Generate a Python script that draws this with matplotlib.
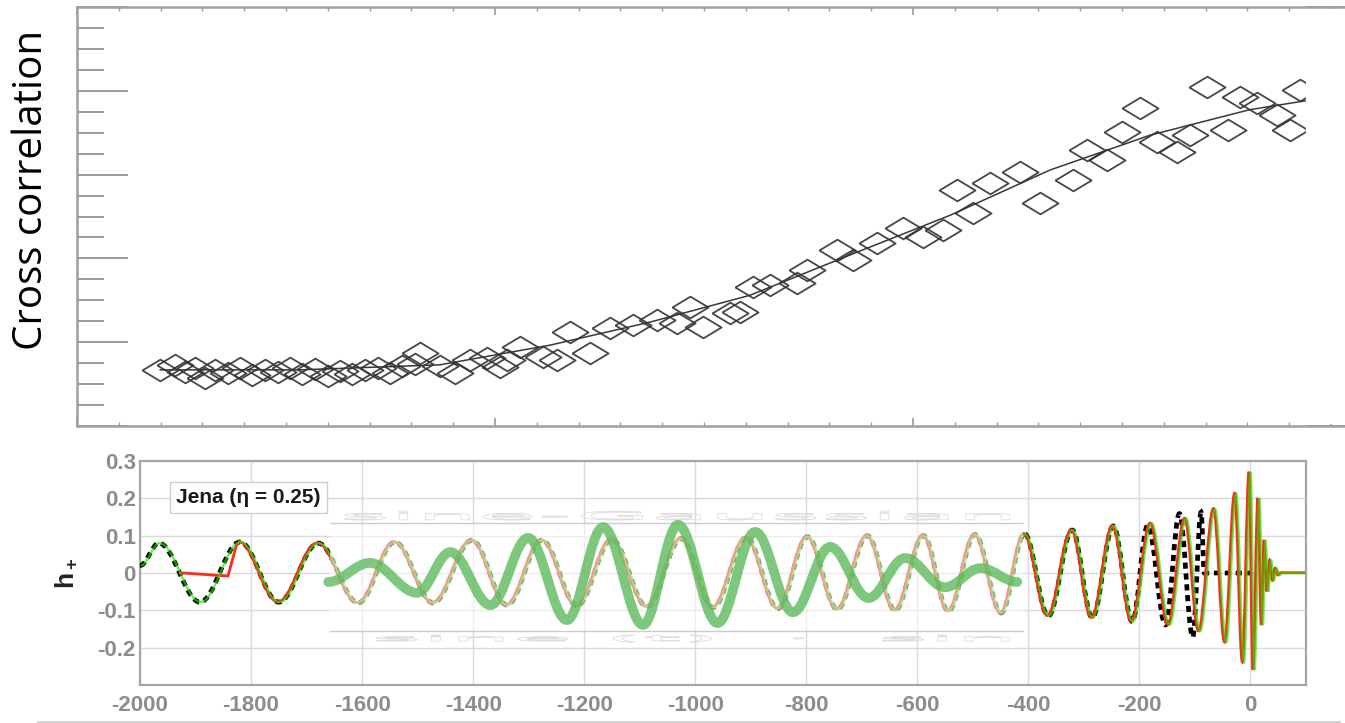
import matplotlib
matplotlib.use("Agg")
import matplotlib.pyplot as plt
from matplotlib.path import Path
from matplotlib.patches import PathPatch, Rectangle
from matplotlib.textpath import TextPath
from matplotlib.font_manager import FontProperties
from matplotlib.transforms import Affine2D, ScaledTranslation
from matplotlib.lines import Line2D
from matplotlib.ticker import MultipleLocator

plt.rcParams["font.family"] = ["Liberation Sans", "DejaVu Sans"]
plt.rcParams["mathtext.fontset"] = "custom"
plt.rcParams["mathtext.bf"] = "Liberation Sans:bold"

# ---- top panel: cross correlation samples (minor x tick = 1 unit) ----
cc_x = [1.99, 2.34, 2.58, 2.82, 3.06, 3.30, 3.61, 3.90, 4.19, 4.50, 4.81, 5.10,
        5.38, 5.69, 6.00, 6.29, 6.58, 6.89, 7.20, 7.49, 7.78, 8.09, 8.21, 8.68,
        9.05, 9.40, 9.81, 10.12, 10.29, 10.60, 11.15, 11.48, 11.79, 12.27, 12.75,
        13.30, 13.88, 14.35, 14.67, 14.98, 15.62, 15.86, 16.17, 16.58, 17.22,
        17.46, 18.18, 18.56, 19.14, 19.76, 20.24, 20.72, 21.05, 21.44, 21.84,
        22.56, 23.04, 23.83, 24.16, 24.64, 25.00, 25.43, 25.84, 26.32, 26.63,
        27.03, 27.54, 27.82, 28.23, 28.71, 29.02, 29.26]
cc_y = [0.134, 0.146, 0.129, 0.138, 0.115, 0.134, 0.126, 0.138, 0.122, 0.134,
        0.129, 0.138, 0.124, 0.136, 0.119, 0.131, 0.124, 0.134, 0.138, 0.126,
        0.143, 0.148, 0.175, 0.143, 0.126, 0.158, 0.162, 0.141, 0.158, 0.189,
        0.165, 0.158, 0.224, 0.174, 0.234, 0.241, 0.253, 0.246, 0.284, 0.236,
        0.270, 0.272, 0.332, 0.337, 0.341, 0.372, 0.420, 0.396, 0.437, 0.473,
        0.451, 0.468, 0.563, 0.508, 0.580, 0.606, 0.532, 0.587, 0.659, 0.635,
        0.702, 0.759, 0.678, 0.654, 0.695, 0.809, 0.706, 0.785, 0.771, 0.742,
        0.706, 0.802]
fit_x = [1.99, 5.33, 8.68, 11.32, 13.71, 16.10, 18.49, 20.89, 23.28, 25.67, 28.06, 29.38]
fit_y = [0.134, 0.134, 0.146, 0.193, 0.248, 0.312, 0.408, 0.503, 0.611, 0.694, 0.755, 0.776]

# ---- bottom panel: waveform extrema (time, h+) ----
wave_t = [-2000, -1966, -1892, -1820, -1750, -1679, -1607, -1541, -1472, -1402,
          -1339, -1276, -1213, -1150, -1087, -1025, -968, -908, -851, -798, -744,
          -690, -640, -589, -544, -496, -449, -407, -364, -321, -285, -247, -213,
          -179, -147, -117, -92, -65, -45, -27, -13, -1, 6, 15, 21, 26, 31, 36,
          41, 46, 51, 56, 100]
wave_h = [0.020, 0.080, -0.078, 0.083, -0.078, 0.080, -0.080, 0.083, -0.080, 0.088,
          -0.086, 0.088, -0.088, 0.090, -0.090, 0.092, -0.092, 0.095, -0.095, 0.097,
          -0.097, 0.100, -0.100, 0.100, -0.102, 0.103, -0.107, 0.105, -0.115, 0.115,
          -0.120, 0.126, -0.130, 0.133, -0.139, 0.146, -0.156, 0.172, -0.186, 0.213,
          -0.239, 0.270, -0.260, 0.200, -0.140, 0.088, -0.050, 0.033, -0.020, 0.012,
          -0.006, 0.0, 0.0]
# red model: glitch at the start
red_lead_t = [-1928, -1840, -1825]
red_lead_h = [0.0, -0.009, 0.072]
# black dashed: departs from the shared curve after t = -213
nr_tail_t = [-185, -153, -128, -104, -89, -83, 0]
nr_tail_h = [0.128, -0.139, 0.159, -0.172, 0.163, 0.0, 0.0]
# thick green sine-Gaussian
sg_t = [-1661, -1586, -1501, -1441, -1369, -1301, -1231, -1166, -1094, -1031,
        -960, -892, -824, -757, -688, -622, -550, -486, -420]
sg_h = [-0.024, 0.027, -0.053, 0.056, -0.086, 0.094, -0.126, 0.123, -0.139, 0.129,
        -0.134, 0.110, -0.105, 0.070, -0.067, 0.040, -0.038, 0.013, -0.024]

xticks_bot = [-2000, -1800, -1600, -1400, -1200, -1000, -800, -600, -400, -200, 0]
xlabels_bot = ["-2000", "-1800", "-1600", "-1400", "-1200", "-1000", "-800",
               "-600", "-400", "-200", "0"]
yticks_bot = [-0.2, -0.1, 0.0, 0.1, 0.2, 0.3]
ylabels_bot = ["-0.2", "-0.1", "0", "0.1", "0.2", "0.3"]


def wave_path(t, h, lead_t=(), lead_h=(), k=0.36):
    # smooth half-waves between consecutive extrema (cubic Bezier)
    verts, codes = [], []
    for i, (a, b) in enumerate(zip(lead_t, lead_h)):
        verts.append((a, b))
        codes.append(Path.MOVETO if i == 0 else Path.LINETO)
    verts.append((t[0], h[0]))
    codes.append(Path.LINETO if codes else Path.MOVETO)
    for i in range(1, len(t)):
        dt = t[i] - t[i - 1]
        verts += [(t[i - 1] + k * dt, h[i - 1]), (t[i] - k * dt, h[i]), (t[i], h[i])]
        codes += [Path.CURVE4] * 3
    return Path(verts, codes)


fig = plt.figure(figsize=(13.45, 7.23), dpi=100)

# ================= top panel =================
ax1 = fig.add_axes([77 / 1345, 297 / 723, 1280 / 1345, 419 / 723])
diamond = [(-1, 0), (0, 0.6), (1, 0), (0, -0.6), (-1, 0)]
ax1.plot(fit_x, fit_y, color="#383838", lw=1.1, zorder=2)
ax1.plot(cc_x, cc_y, ls="none", marker=diamond, markersize=26, mfc="none",
         mec="#333333", mew=1.3, alpha=0.9, zorder=2)
ax1.add_patch(Rectangle((29.4, 0.005), 2.0, 0.99, fc="white", ec="none", zorder=2.2))
ax1.set_xlim(0, 1280 / 41.8)
ax1.set_ylim(0, 1)
ax1.xaxis.set_major_locator(MultipleLocator(10))
ax1.xaxis.set_minor_locator(MultipleLocator(1))
ax1.yaxis.set_major_locator(MultipleLocator(0.2))
ax1.yaxis.set_minor_locator(MultipleLocator(0.05))
ax1.tick_params(axis="y", which="major", direction="in", length=37, width=1.4,
                color="#9a9a9a", left=True, right=True, labelleft=False)
ax1.tick_params(axis="y", which="minor", direction="in", length=19.5, width=1.4,
                color="#9a9a9a", left=True, right=True)
ax1.tick_params(axis="x", which="major", direction="in", length=6, width=1.2,
                color="#9a9a9a", top=True, bottom=True, labelbottom=False)
ax1.tick_params(axis="x", which="minor", direction="in", length=3, width=1.0,
                color="#9a9a9a", top=True, bottom=True)
for s in ax1.spines.values():
    s.set_color("#a0a0a0")
    s.set_linewidth(1.8)

fig.text(32 / 1345, (723 - 190) / 723, "Cross correlation", rotation=90,
         ha="center", va="center", fontsize=29, family="Open Sans", color="black")

# ================= bottom panel =================
ax2 = fig.add_axes([140 / 1345, 38 / 723, 1166 / 1345, 224 / 723])
ax2.set_xlim(-2000, 100)
ax2.set_ylim(-0.3, 0.3)
ax2.set_xticks(xticks_bot, xlabels_bot, fontweight="bold")
ax2.set_yticks(yticks_bot, ylabels_bot, fontweight="bold")
ax2.grid(True, color="#dadada", lw=1.0)
ax2.set_axisbelow(True)
ax2.tick_params(length=0, labelsize=16, labelcolor="#8c8c8c")
ax2.tick_params(axis="x", pad=7)
ax2.tick_params(axis="y", pad=3)
for s in ax2.spines.values():
    s.set_color("#a6a6a6")
    s.set_linewidth(1.6)

i_split = wave_t.index(-213)
i_red = wave_t.index(-1820)

nr = wave_path(wave_t[:i_split + 1] + nr_tail_t, wave_h[:i_split + 1] + nr_tail_h)
ax2.add_patch(PathPatch(nr, fill=False, ec="black", lw=3.4, ls=(0, (1.3, 1.0)),
                        capstyle="butt", zorder=3))

red_shift = ax2.transData + ScaledTranslation(-0.9 / 100, 0.3 / 100, fig.dpi_scale_trans)
red = wave_path(wave_t[i_red:], wave_h[i_red:], red_lead_t, red_lead_h)
ax2.add_patch(PathPatch(red, fill=False, ec="#ff2a1a", lw=2.0, zorder=4,
                        transform=red_shift))

green_shift = ax2.transData + ScaledTranslation(0.7 / 100, 0, fig.dpi_scale_trans)
grn = wave_path(wave_t, wave_h)
ax2.add_patch(PathPatch(grn, fill=False, ec="#22e000", lw=1.7, alpha=0.65, zorder=5,
                        transform=green_shift))

# pasted translucent inset over the middle
ax2.add_patch(Rectangle((-1658, -0.155), 1248, 0.288, fc="white", ec="none",
                        alpha=0.5, zorder=6))
ax2.plot([-1658, -410], [0.133, 0.133], color="#cccccc", lw=1.0, zorder=6.5)
ax2.plot([-1658, -410], [-0.155, -0.155], color="#cccccc", lw=1.0, zorder=6.5)

sg = wave_path(sg_t, sg_h)
ax2.add_patch(PathPatch(sg, fill=False, ec="#5dbb5d", lw=7, alpha=0.8,
                        capstyle="round", zorder=7))


def ghost_text(ax, s, x0, x1, ybase, height_px):
    tp = TextPath((0, 0), s, size=10, prop=FontProperties(family="DejaVu Sans"))
    bb = tp.get_extents()
    p0 = ax.transData.transform((x0, ybase))
    p1 = ax.transData.transform((x1, ybase))
    tr = (Affine2D().translate(-bb.x0, -bb.y0)
          .scale((p1[0] - p0[0]) / bb.width, height_px / bb.height)
          .translate(p0[0], p0[1]))
    ax.add_patch(PathPatch(tp, transform=tr, fc="none", ec="#dcdcdc", lw=0.6,
                           zorder=6.6))


ghost_text(ax2, "sine-Gaussian", -1631, -433, 0.142, 9)
ghost_text(ax2, "sine (t)  \u00b7  sin", -1575, -433, -0.185, 7)

ax2.text(-1805, 0.202, "Jena (\u03b7 = 0.25)", ha="center", va="center",
         fontsize=15, fontweight="bold", color="#1a1a1a", zorder=8,
         bbox=dict(boxstyle="square,pad=0.3", fc="white", ec="#cfcfcf", lw=1.0))

fig.text(66 / 1345, (723 - 573) / 723, r"$\mathbf{h_+}$", rotation=90,
         ha="center", va="center", fontsize=19, color="#222222")

fig.add_artist(Line2D([38 / 1345, 1340 / 1345], [1.2 / 723, 1.2 / 723],
                      color="#c8c8c8", lw=1.2))

fig.savefig("out.png", dpi=100)
